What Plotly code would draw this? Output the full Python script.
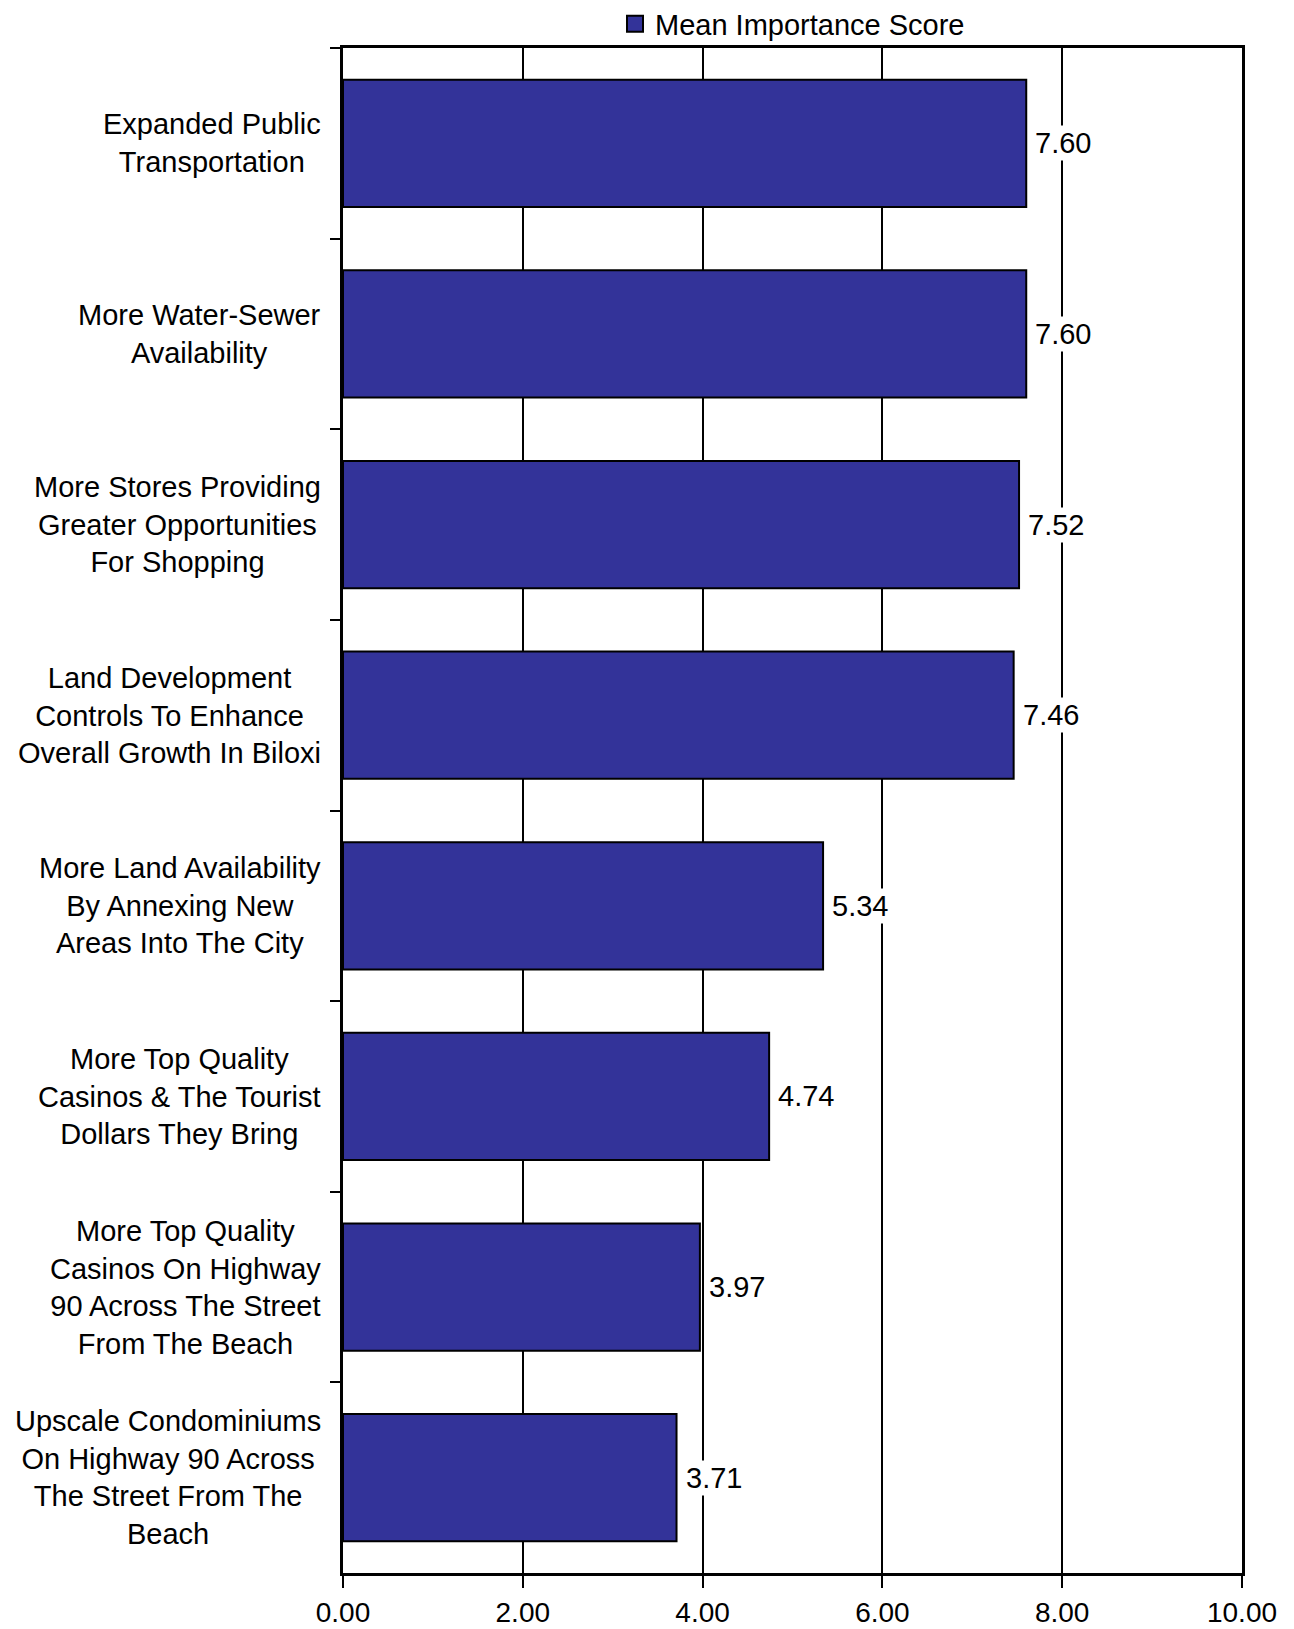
import plotly.graph_objects as go

categories = [
    "Expanded Public<br>Transportation",
    "More Water-Sewer<br>Availability",
    "More Stores Providing<br>Greater Opportunities<br>For Shopping",
    "Land Development<br>Controls To Enhance<br>Overall Growth In Biloxi",
    "More Land Availability<br>By Annexing New<br>Areas Into The City",
    "More Top Quality<br>Casinos & The Tourist<br>Dollars They Bring",
    "More Top Quality<br>Casinos On Highway<br>90 Across The Street<br>From The Beach",
    "Upscale Condominiums<br>On Highway 90 Across<br>The Street From The<br>Beach",
]
values = [7.60, 7.60, 7.52, 7.46, 5.34, 4.74, 3.97, 3.71]
series_name = "Mean Importance Score"
x_ticks = [0, 2, 4, 6, 8, 10]
x_tick_labels = ["0.00", "2.00", "4.00", "6.00", "8.00", "10.00"]

FONT = "Liberation Sans, Arial, sans-serif"
FS = 29
BAR_COLOR = "#333399"

fig = go.Figure()
fig.add_trace(go.Bar(
    y=categories, x=values, orientation="h", name=series_name,
    marker=dict(color=BAR_COLOR, line=dict(color="black", width=2)),
    showlegend=False,
))
# legend entry with a larger square swatch
fig.add_trace(go.Scatter(
    x=[None], y=[None], mode="markers", name=series_name,
    marker=dict(symbol="square", size=18, color=BAR_COLOR,
                line=dict(color="black", width=2)),
    showlegend=True, hoverinfo="skip",
))

annotations = []
for c, v in zip(categories, values):
    annotations.append(dict(
        x=0, xref="paper", y=c, yref="y", text=c, showarrow=False,
        xanchor="right", yanchor="middle", align="center", xshift=-20,
        font=dict(family=FONT, size=FS, color="black"),
    ))
    annotations.append(dict(
        x=v, xref="x", y=c, yref="y", text=f"{v:.2f}", showarrow=False,
        xanchor="left", yanchor="middle", xshift=7, bgcolor="white",
        borderpad=1,
        font=dict(family=FONT, size=FS, color="black"),
    ))

W, H = 1286, 1621
fig.update_layout(
    width=W, height=H,
    margin=dict(l=335, r=52, t=40, b=56, autoexpand=False),
    paper_bgcolor="white", plot_bgcolor="white",
    bargap=0.333,
    font=dict(family=FONT, size=FS, color="black"),
    legend=dict(orientation="h", xref="paper", x=0.5, xanchor="center",
                yref="container", y=1 - 16 / H, yanchor="middle",
                font=dict(family=FONT, size=FS, color="black"),
                itemsizing="trace", itemwidth=30, bgcolor="rgba(0,0,0,0)"),
    annotations=annotations,
    xaxis=dict(range=[0, 10], tickvals=x_ticks, ticktext=x_tick_labels,
               showgrid=True, gridcolor="black", gridwidth=2,
               showline=True, linecolor="black", linewidth=3, mirror=True,
               ticks="outside", ticklen=12, tickwidth=2, tickcolor="black",
               ticklabelstandoff=0,
               zeroline=False, automargin=False,
               tickfont=dict(family=FONT, size=28)),
    yaxis=dict(type="category", autorange="reversed", tickson="boundaries",
               showticklabels=False, showgrid=False, automargin=False,
               showline=True, linecolor="black", linewidth=3, mirror=True,
               ticks="outside", ticklen=10, tickwidth=2, tickcolor="black"),
)

fig.write_html("out.html")
